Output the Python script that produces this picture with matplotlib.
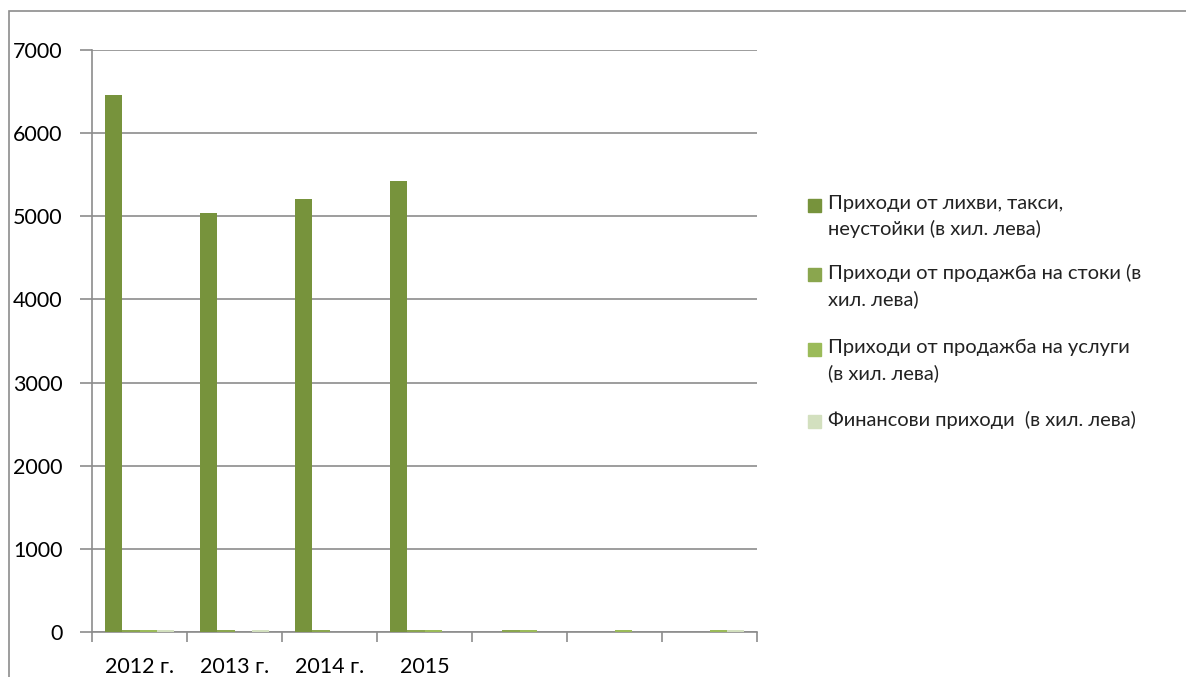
import numpy as np
import matplotlib.pyplot as plt
from matplotlib.patches import Rectangle

plt.rcParams['font.family'] = ['Lato', 'Noto Sans', 'DejaVu Sans']

# categories (only the first four are labelled in the original)
categories = ["2012 г.", "2013 г.", "2014 г.", "2015", "", "", ""]

series_names = [
    "Приходи от лихви, такси,\nнеустойки (в хил. лева)",
    "Приходи от продажба на стоки (в\nхил. лева)",
    "Приходи от продажба на услуги\n(в хил. лева)",
    "Финансови приходи  (в хил. лева)",
]
lihvi = [6460, 5040, 5210, 5430, 0, 0, 0]
stoki = [30, 25, 25, 30, 30, 0, 0]
uslugi = [30, 0, 0, 30, 30, 30, 30]
finansovi = [25, 25, 0, 0, 0, 0, 20]
series = [lihvi, stoki, uslugi, finansovi]
colors = ["#77933C", "#8AA64E", "#9BBB59", "#D3E0BF"]

fig = plt.figure(figsize=(11.86, 6.77), dpi=100)
ax = fig.add_axes([92 / 1186, 1 - 632 / 677, (757 - 92) / 1186, (632 - 50) / 677])

# outer chart frame (cropped on the right and bottom in the original)
fig.patches.append(Rectangle((9 / 1186, -0.1), 1.2, (677 - 11) / 677 + 0.1,
                             transform=fig.transFigure, fill=False,
                             edgecolor="#8C8C8C", linewidth=1.2))

n = len(categories)
w = 1 / (len(series) + 1.5)
x = np.arange(n)
for j, (vals, c) in enumerate(zip(series, colors)):
    ax.bar(x + (j - 1.5) * w, vals, width=w, color=c, zorder=3)

ax.set_xlim(-0.5, n - 0.5)
ax.set_ylim(0, 7000)
ax.set_yticks(np.arange(0, 7001, 1000))
ax.yaxis.grid(True, color="#8C8C8C", linewidth=1.2, zorder=0)

ax.set_xticks(np.arange(n + 1) - 0.5)
ax.set_xticklabels([])
ax.set_xticks(x, minor=True)
ax.set_xticklabels(categories, minor=True, fontsize=15.5)
ax.tick_params(axis="x", which="major", length=7, width=1.2, color="#8C8C8C", direction="out")
ax.tick_params(axis="x", which="minor", length=0, pad=18)
ax.tick_params(axis="y", length=9, width=1.2, color="#8C8C8C", direction="out",
               labelsize=15.5, pad=12)

for s in ["top", "right"]:
    ax.spines[s].set_visible(False)
for s in ["left", "bottom"]:
    ax.spines[s].set_color("#8C8C8C")
    ax.spines[s].set_linewidth(1.2)

# legend drawn by hand to keep the square on the first line of each entry
ys = [206, 275, 350, 422]
for name, c, yy in zip(series_names, colors, ys):
    fig.patches.append(Rectangle((808 / 1186, 1 - (yy + 6) / 677), 13 / 1186, 13 / 677,
                                 transform=fig.transFigure, color=c))
    fig.text(828 / 1186, 1 - (yy - 11) / 677, name, fontsize=14.5, va="top", ha="left",
             linespacing=1.55, color="#222222")

fig.savefig("out.png", dpi=100)
